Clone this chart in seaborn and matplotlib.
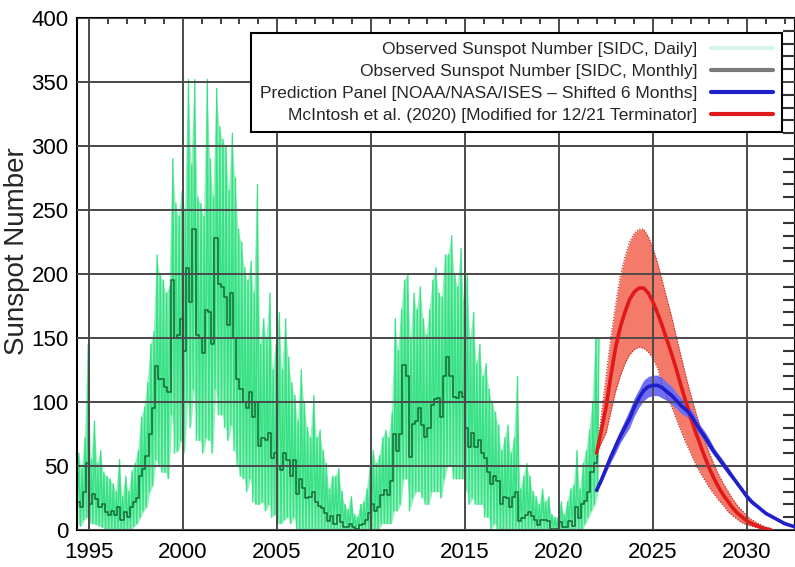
import numpy as np
import pandas as pd
import matplotlib
matplotlib.use("Agg")
import matplotlib.pyplot as plt
from matplotlib.lines import Line2D
from matplotlib.ticker import MultipleLocator
import seaborn as sns

# Observed sunspot number, two-month slots from May/Jun 1994 to Jan/Feb 2022
obs_start = 1994 + 5 / 12
obs_step = 1 / 6
monthly_sn = [
    22, 18, 30, 52,
    20, 28, 24, 18, 20, 14,
    12, 15, 12, 18, 8, 14,
    10, 18, 22, 25, 42, 48,
    58, 75, 95, 128, 118, 118,
    112, 108, 195, 150, 152, 165,
    140, 205, 178, 235, 152, 150,
    138, 172, 170, 145, 228, 192,
    190, 182, 160, 185, 150, 118,
    110, 100, 95, 108, 88, 100,
    66, 72, 70, 76, 56, 60,
    50, 47, 60, 55, 42, 55,
    28, 40, 33, 25, 26, 30,
    22, 19, 17, 13, 7, 11,
    5, 12, 6, 2, 2, 5,
    2, 1, 4, 5, 8, 13,
    20, 15, 18, 27, 31, 27,
    38, 75, 62, 75, 129, 120,
    57, 83, 85, 95, 82, 73,
    80, 98, 102, 103, 88, 120,
    135, 120, 104, 103, 108, 104,
    80, 65, 76, 65, 70, 60,
    56, 45, 36, 42, 38, 20,
    26, 25, 18, 26, 30, 7,
    9, 12, 14, 11, 8, 4,
    8, 8, 7, 1, 1, 1,
    6, 2, 2, 7, 3, 18,
    9, 20, 23, 30, 45, 52,
    58,
]
daily_high = [
    60, 48, 72, 145,
    55, 85, 52, 62, 45, 42,
    40, 36, 30, 55, 26, 42,
    30, 46, 52, 62, 88, 96,
    115, 145, 155, 215, 200, 195,
    185, 190, 290, 255, 245, 265,
    250, 352, 285, 352, 260, 255,
    245, 352, 290, 260, 345, 315,
    305, 300, 265, 310, 275, 235,
    225, 205, 195, 210, 185, 270,
    145, 165, 150, 185, 125, 145,
    170, 125, 165, 135, 115, 105,
    85, 125, 100, 80, 72, 105,
    72, 78, 62, 52, 32, 42,
    42, 48, 30, 20, 16, 26,
    12, 10, 20, 22, 32, 50,
    62, 52, 58, 72, 78, 72,
    92, 165, 140, 172, 195, 200,
    150, 185, 172, 190, 165, 152,
    172, 195, 205, 185, 182, 215,
    215, 230, 200, 190, 220, 180,
    200, 150, 170, 130, 145, 120,
    130, 110, 100, 92, 82, 62,
    72, 82, 60, 72, 120, 32,
    42, 52, 42, 30, 26, 20,
    32, 22, 26, 12, 10, 10,
    22, 12, 22, 32, 35, 62,
    32, 52, 62, 78, 100, 150,
    150,
]
daily_low = [
    5, 3, 8, 10,
    5, 5, 4, 3, 2, 0,
    0, 0, 0, 0, 0, 0,
    0, 0, 3, 5, 10, 15,
    18, 30, 35, 55, 50, 45,
    45, 40, 90, 60, 62, 70,
    60, 100, 80, 110, 70, 70,
    60, 72, 70, 60, 110, 90,
    90, 80, 70, 82, 62, 50,
    42, 40, 30, 40, 22, 20,
    20, 22, 15, 20, 10, 12,
    5, 5, 8, 10, 5, 10,
    0, 0, 0, 0, 0, 0,
    0, 0, 0, 0, 0, 0,
    0, 0, 0, 0, 0, 0,
    0, 0, 0, 0, 0, 0,
    0, 0, 0, 5, 5, 5,
    5, 15, 15, 20, 40, 40,
    15, 25, 30, 30, 25, 20,
    20, 30, 30, 30, 25, 40,
    50, 50, 40, 40, 40, 40,
    30, 20, 25, 20, 20, 20,
    10, 10, 0, 5, 0, 0,
    0, 0, 0, 0, 0, 0,
    0, 0, 0, 0, 0, 0,
    0, 0, 0, 0, 0, 0,
    0, 0, 0, 0, 0, 0,
    0, 0, 5, 10, 15, 20,
    30,
]

# Forecasts, quarterly from 2022.0
pred_start = 2022.0
pred_step = 0.25
mcintosh = [60, 78, 96, 120, 142, 158, 170, 180, 186, 189, 189, 185, 178, 169,
            159, 148, 137, 125, 112, 100, 88, 77, 67, 57, 48, 40, 33, 27, 22,
            17, 13, 10, 7, 5, 3.5, 2, 1, 0.3]
mcintosh_hi = [60, 90, 120, 150, 175, 198, 213, 225, 232, 235, 235, 229, 220,
               208, 194, 180, 166, 150, 135, 120, 106, 93, 81, 70, 60, 51, 43,
               36, 30, 24, 19, 15, 11, 8, 6, 4, 2, 0.8]
mcintosh_lo = [60, 68, 76, 92, 108, 120, 130, 137, 141, 143, 142, 139, 134,
               126, 113, 104, 96, 86, 77, 68, 60, 52, 45, 39, 33, 28, 23, 19,
               14, 11, 8, 5.5, 4, 3, 2, 1, 0.5, 0.1]
panel = [31, 39, 48, 57, 65, 73, 80, 87, 96, 103, 109, 112, 113, 113, 111, 108,
         105, 101, 97, 94, 90, 84, 78, 73, 67, 61, 56, 51, 46, 41, 36, 31, 26,
         22, 19, 16, 13, 11, 9, 7, 5, 3.8, 2.7, 2]
panel_hi = [32, 41, 51, 61, 70, 78, 86, 94, 103, 110, 117, 120, 121, 121, 119,
            115, 112, 107, 103, 99, 95, 89, 82, 77, 71, 64, 59, 54, 49, 43, 38,
            33, 28, 24, 20, 17, 14, 12, 10, 8, 6, 4.3, 3.1, 2.3]
panel_lo = [30, 37, 45, 53, 60, 68, 74, 80, 89, 96, 101, 104, 105, 105, 103,
            101, 98, 95, 91, 89, 85, 79, 74, 69, 63, 58, 53, 48, 43, 39, 34,
            29, 24, 20, 18, 15, 12, 10, 8, 6, 4, 3.3, 2.3, 1.7]

legend_labels = [
    "Observed Sunspot Number [SIDC, Daily]",
    "Observed Sunspot Number [SIDC, Monthly]",
    "Prediction Panel [NOAA/NASA/ISES \u2013 Shifted 6 Months]",
    "McIntosh et al. (2020) [Modified for 12/21 Terminator]",
]

# ---------------------------------------------------------------- frames
obs_year = obs_start + obs_step * np.arange(len(monthly_sn))
obs = pd.DataFrame({"year": obs_year, "monthly": monthly_sn,
                    "high": daily_high, "low": daily_low})

# daily scatter drawn as alternating low/high spikes inside each slot
spikes = pd.DataFrame({
    "year": np.ravel(np.column_stack([obs["year"] - obs_step / 4,
                                      obs["year"] + obs_step / 4])),
    "sn": np.ravel(np.column_stack([obs["low"], obs["high"]])),
})

mc = pd.DataFrame({"year": pred_start + pred_step * np.arange(len(mcintosh)),
                   "sn": mcintosh, "hi": mcintosh_hi, "lo": mcintosh_lo})
pp = pd.DataFrame({"year": pred_start + pred_step * np.arange(len(panel)),
                   "sn": panel, "hi": panel_hi, "lo": panel_lo})

# ---------------------------------------------------------------- style
sns.set_theme(style="white")
plt.rcParams["font.family"] = ["Liberation Sans", "DejaVu Sans"]

fig = plt.figure(figsize=(7.95, 5.67), dpi=100)
ax = fig.add_axes([77 / 795, 1 - 530 / 567, 718 / 795, 512 / 567])

daily_col = "#2ee07f"
month_col = "#156a36"
blue = "#2020c8"
red = "#e01a1a"

ax.fill_between(obs["year"], obs["low"], obs["high"], color=daily_col,
                alpha=0.5, lw=0, zorder=1.1)
sns.lineplot(data=spikes, x="year", y="sn", ax=ax, color=daily_col,
             lw=1.0, alpha=0.9, sort=False, estimator=None, zorder=1.5)
sns.lineplot(data=obs, x="year", y="monthly", ax=ax, color=month_col,
             lw=1.1, sort=False, estimator=None, drawstyle="steps-mid",
             zorder=1.8)

ax.fill_between(mc["year"], mc["lo"], mc["hi"], color="#f47b6a", lw=0,
                zorder=1.2)
ax.plot(mc["year"], mc["hi"], color="#b02020", lw=0.8, ls=(0, (1, 1.5)),
        zorder=1.3)
ax.plot(mc["year"], mc["lo"], color="#b02020", lw=0.8, ls=(0, (1, 1.5)),
        zorder=1.3)
ax.fill_between(pp["year"], pp["lo"], pp["hi"], color="#6f6ff5", lw=0,
                zorder=1.25)
sns.lineplot(data=mc, x="year", y="sn", ax=ax, color=red, lw=2.6,
             sort=False, estimator=None, zorder=3)
sns.lineplot(data=pp, x="year", y="sn", ax=ax, color=blue, lw=2.6,
             sort=False, estimator=None, zorder=3.1)

# ---------------------------------------------------------------- axes
ax.set_xlim(1994.36, 2032.55)
ax.set_ylim(0, 400)
ax.xaxis.set_major_locator(MultipleLocator(5))
ax.xaxis.set_minor_locator(MultipleLocator(1))
ax.yaxis.set_major_locator(MultipleLocator(50))
ax.yaxis.set_minor_locator(MultipleLocator(10))
ax.grid(which="major", color="#4a4a4a", lw=1.4)
ax.set_axisbelow(False)
ax.tick_params(which="both", direction="in", top=True, right=True,
               colors="#333333", labelcolor="black")
ax.tick_params(which="major", length=0, labelsize=16)
ax.tick_params(axis="x", which="major", pad=9)
ax.tick_params(axis="y", which="major", pad=6)
ax.tick_params(axis="y", which="minor", length=9, width=1.5)
ax.tick_params(axis="x", which="minor", length=4.5, width=1.3)
for s in ax.spines.values():
    s.set_color("black")
    s.set_linewidth(1.5)

ax.set_xlabel("")
ax.set_ylabel("Sunspot Number", fontsize=20)
ax.yaxis.set_label_coords(-0.066, 0.545)

handles = [
    Line2D([], [], color="#d6f4ee", lw=3),
    Line2D([], [], color="#7a7a7a", lw=3),
    Line2D([], [], color=blue, lw=3),
    Line2D([], [], color=red, lw=3),
]
leg = ax.legend(handles, legend_labels, loc="upper right",
                bbox_to_anchor=(0.982, 0.971), borderaxespad=0,
                markerfirst=False, frameon=True, fancybox=False,
                framealpha=1, edgecolor="black", fontsize=12.5,
                handlelength=3.6, handletextpad=0.8, borderpad=0.5,
                labelspacing=0.4)
leg.get_frame().set_linewidth(1.5)
leg.set_zorder(5)

fig.savefig("out.png", dpi=100)
